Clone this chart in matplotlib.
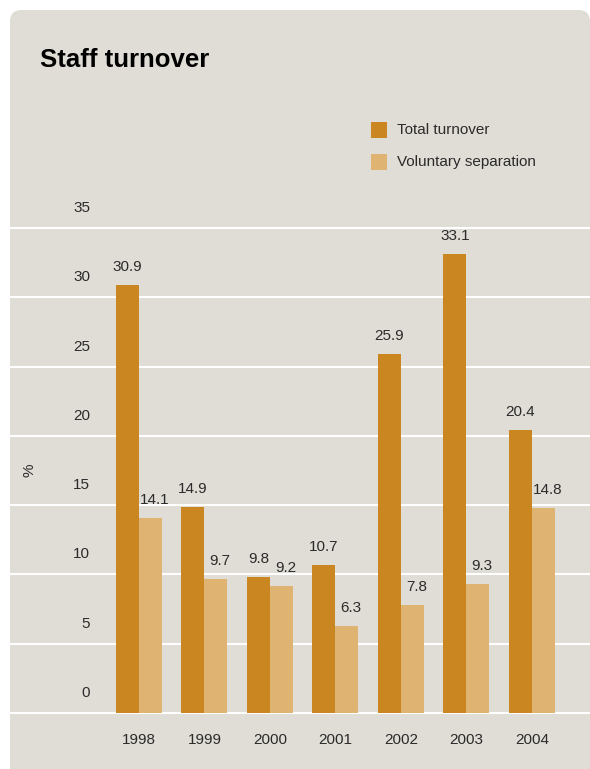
import matplotlib
matplotlib.use("Agg")
import matplotlib.pyplot as plt
from matplotlib.patches import FancyBboxPatch, Rectangle
import numpy as np

plt.rcParams['font.family'] = ['Liberation Sans', 'DejaVu Sans']

years = ["1998", "1999", "2000", "2001", "2002", "2003", "2004"]
total_turnover = [30.9, 14.9, 9.8, 10.7, 25.9, 33.1, 20.4]
voluntary_separation = [14.1, 9.7, 9.2, 6.3, 7.8, 9.3, 14.8]
y_ticks = [0, 5, 10, 15, 20, 25, 30, 35]
series_names = ["Total turnover", "Voluntary separation"]

C_TOTAL = "#c98621"
C_VOL = "#dfb473"
BG = "#e0dcd6"
TXT = "#2b2b2b"
FS = 11

W, H = 590, 769
fig = plt.figure(figsize=(W / 100, H / 100), dpi=100)
fig.patch.set_facecolor("white")

def fx(px):
    return px / W

def fy(py):
    return 1 - py / H

# background panel with rounded top corners
panel = FancyBboxPatch((fx(10), fy(800)), fx(580), (800 - 10) / H,
                       boxstyle="round,pad=0,rounding_size=0.02",
                       transform=fig.transFigure, facecolor=BG, edgecolor="none",
                       mutation_aspect=W / H, zorder=-5)
fig.patches.append(panel)

# axes: y=0 at px 713, y=35 at px 228; x spans panel
ax = fig.add_axes([fx(10), fy(713), fx(580), (713 - 228) / H])
ax.set_zorder(2)
ax.set_facecolor("none")
x = np.arange(len(years))
bw = 23 / 65.5
ax.set_xlim(-1.969, -1.969 + 580 / 65.5)
ax.set_ylim(0, 35)
for s in ax.spines.values():
    s.set_visible(False)
ax.set_xticks([])
ax.set_yticks([])

for t in y_ticks:
    ax.axhline(t, color="white", lw=1.5, zorder=1, clip_on=False)
    ax.annotate(str(t), xy=(80 / 580, t), xycoords=("axes fraction", "data"),
                xytext=(0, 20), textcoords="offset pixels",
                ha="right", va="center", fontsize=FS, color=TXT)

ax.bar(x - bw / 2, total_turnover, bw, color=C_TOTAL, zorder=2)
ax.bar(x + bw / 2, voluntary_separation, bw, color=C_VOL, zorder=2)

for i in range(len(years)):
    ax.annotate(f"{total_turnover[i]:.1f}", xy=(x[i] - bw / 2, total_turnover[i]),
                xytext=(0, 18), textcoords="offset pixels",
                ha="center", va="center", fontsize=FS, color=TXT)
    ax.annotate(f"{voluntary_separation[i]:.1f}", xy=(x[i] + bw / 2, voluntary_separation[i]),
                xytext=(4, 18), textcoords="offset pixels",
                ha="center", va="center", fontsize=FS, color=TXT)
    ax.annotate(years[i], xy=(x[i], 0), xytext=(0, -27), textcoords="offset pixels",
                ha="center", va="center", fontsize=FS, color=TXT, annotation_clip=False)

fig.text(fx(30), fy(470), "%", rotation=90, ha="center", va="center",
         fontsize=FS, color=TXT)

fig.text(fx(40), fy(60), "Staff turnover", ha="left", va="center",
         fontsize=18.5, fontweight="bold", color="black")

# legend
for k, (name, col) in enumerate(zip(series_names, [C_TOTAL, C_VOL])):
    top = 122 + k * 32
    fig.patches.append(Rectangle((fx(371), fy(top + 16)), 16 / W, 16 / H,
                                 transform=fig.transFigure, facecolor=col,
                                 edgecolor="none"))
    fig.text(fx(397), fy(top + 8), name, ha="left", va="center",
             fontsize=FS, color=TXT)

fig.savefig("out.png", dpi=100)
